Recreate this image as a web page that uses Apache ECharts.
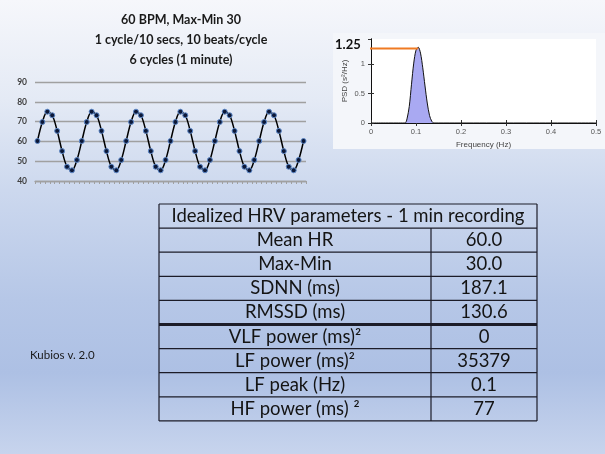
<!DOCTYPE html>
<html><head><meta charset="utf-8">
<script src="https://cdn.jsdelivr.net/npm/echarts@6/dist/echarts.min.js"></script>
<style>html,body{margin:0;padding:0;background:#fff;}#c{width:605px;height:454px;}</style>
</head><body><div id="c"></div>
<script>
const titleLines = ['60 BPM, Max-Min 30', '1 cycle/10 secs, 10 beats/cycle', '6 cycles (1 minute)'];
const beatIndex = [1,2,3,4,5,6,7,8,9,10,11,12,13,14,15,16,17,18,19,20,21,22,23,24,25,26,27,28,29,30,31,32,33,34,35,36,37,38,39,40,41,42,43,44,45,46,47,48,49,50,51,52,53,54,55];
const hrValues = [
  60.2,69.8,75.0,73.2,65.3,55.1,47.2,45.4,50.6,
  60.2,69.8,75.0,73.2,65.3,55.1,47.2,45.4,50.6,
  60.2,69.8,75.0,73.2,65.3,55.1,47.2,45.4,50.6,
  60.2,69.8,75.0,73.2,65.3,55.1,47.2,45.4,50.6,
  60.2,69.8,75.0,73.2,65.3,55.1,47.2,45.4,50.6,
  60.2,69.8,75.0,73.2,65.3,55.1,47.2,45.4,50.6,
  60.2
];
const hrTicks = [40, 50, 60, 70, 80, 90];
const psdFreq   = [0, 0.070, 0.076, 0.080, 0.085, 0.090, 0.095, 0.100, 0.105, 0.110, 0.115, 0.120, 0.125, 0.130, 0.135, 0.140, 0.5];
const psdValues = [0, 0,     0,     0.07,  0.28,  0.66,  1.02,  1.24,  1.29,  1.19,  0.94,  0.63,  0.34,  0.13,  0.03,  0,     0];
const peakFreq = 0.105;
const peakMarkerValue = 1.27;
const peakLabel = '1.25';
const freqTicks = [0, 0.1, 0.2, 0.3, 0.4, 0.5];
const psdTicks = [0, 0.5, 1];
const tableHeader = 'Idealized HRV parameters - 1 min recording';
const tableParams = ['Mean HR', 'Max-Min', 'SDNN (ms)', 'RMSSD (ms)', 'VLF power (ms)²', 'LF power (ms)²', 'LF peak (Hz)', 'HF power (ms) ²'];
const tableValues = ['60.0', '30.0', '187.1', '130.6', '0', '35379', '0.1', '77'];
const footnote = 'Kubios v. 2.0';

const chart = echarts.init(document.getElementById('c'), null, {renderer: 'canvas'});

// table graphics
const T = {left: 159, right: 537, div: 431, top: 204, rowH: 24.1};
const tableG = [];
const nRows = tableParams.length + 1;
const lineCol = '#1c1c28';
for (let i = 0; i <= nRows; i++) {
  const y = T.top + i * T.rowH;
  const thick = (i === 5);
  tableG.push({type: 'line', shape: {x1: T.left, y1: y, x2: T.right, y2: y}, style: {stroke: lineCol, lineWidth: thick ? 3 : 1.2}});
}
tableG.push({type: 'line', shape: {x1: T.left, y1: T.top, x2: T.left, y2: T.top + nRows * T.rowH}, style: {stroke: lineCol, lineWidth: 1.2}});
tableG.push({type: 'line', shape: {x1: T.right, y1: T.top, x2: T.right, y2: T.top + nRows * T.rowH}, style: {stroke: lineCol, lineWidth: 1.2}});
tableG.push({type: 'line', shape: {x1: T.div, y1: T.top + T.rowH, x2: T.div, y2: T.top + nRows * T.rowH}, style: {stroke: lineCol, lineWidth: 1.2}});
const tFont = {fontFamily: 'Lato', fontSize: 18.5, fill: '#141414'};
tableG.push({type: 'text', x: (T.left + T.right) / 2, y: T.top + T.rowH / 2, style: Object.assign({text: tableHeader, align: 'center', verticalAlign: 'middle'}, tFont)});
tableParams.forEach((p, i) => {
  const yc = T.top + (i + 1.5) * T.rowH;
  tableG.push({type: 'text', x: (T.left + T.div) / 2, y: yc, style: Object.assign({text: p, align: 'center', verticalAlign: 'middle'}, tFont)});
  tableG.push({type: 'text', x: (T.div + T.right) / 2, y: yc, style: Object.assign({text: tableValues[i], align: 'center', verticalAlign: 'middle'}, tFont)});
});

const option = {
  animation: false,
  title: {
    text: titleLines.join('\n'), left: 176, top: 5, textAlign: 'center',
    textStyle: {fontFamily: 'Lato', fontWeight: 'bold', fontSize: 12.5, lineHeight: 20, color: '#1a1a1a'}
  },
  graphic: [
    {type: 'rect', z: -100, shape: {x: 0, y: 0, width: 605, height: 454},
      style: {fill: new echarts.graphic.LinearGradient(0, 0, 0, 1, [
        {offset: 0, color: '#f6f7fb'}, {offset: 0.22, color: '#e4eaf5'}, {offset: 0.42, color: '#ccd8ee'},
        {offset: 0.66, color: '#b6c7e7'}, {offset: 0.82, color: '#adc0e4'}, {offset: 1, color: '#c7d4ed'}])}},
    {type: 'rect', z: -90, shape: {x: 333, y: 33, width: 272, height: 116}, style: {fill: '#f4f6fa'}},
    {type: 'text', x: 335, y: 45, style: {text: peakLabel, fontFamily: 'Lato', fontWeight: 'bold', fontSize: 13, fill: '#111', verticalAlign: 'middle'}},
    {type: 'text', x: 30, y: 355, style: {text: footnote, fontFamily: 'Lato', fontSize: 11.5, fill: '#1a1a1a', verticalAlign: 'middle'}}
  ].concat(tableG),
  grid: [
    {left: 35, top: 82, width: 271, height: 99},
    {left: 371, top: 39, width: 225, height: 84, show: true, backgroundColor: '#ffffff', borderWidth: 0}
  ],
  xAxis: [
    {type: 'category', gridIndex: 0, data: beatIndex, boundaryGap: true,
      axisLine: {lineStyle: {color: '#a0a0a0', width: 1.3}},
      axisTick: {show: true, interval: 0, length: 3, lineStyle: {color: '#a0a0a0'}},
      axisLabel: {show: false}},
    {type: 'value', gridIndex: 1, min: freqTicks[0], max: freqTicks[freqTicks.length - 1], interval: 0.1,
      axisLine: {show: true, lineStyle: {color: '#111', width: 1}},
      axisTick: {show: true, inside: true, length: 3, lineStyle: {color: '#333'}},
      axisLabel: {fontFamily: 'Liberation Sans', fontSize: 7.5, color: '#555', margin: 5},
      splitLine: {show: false},
      name: 'Frequency (Hz)', nameLocation: 'middle', nameGap: 18,
      nameTextStyle: {fontFamily: 'Liberation Sans', fontSize: 8, color: '#444'}},
    {type: 'value', gridIndex: 1, position: 'top', min: 0, max: 0.5, interval: 0.1,
      axisLine: {show: true, lineStyle: {color: '#111', width: 1}},
      axisTick: {show: true, inside: true, length: 3, lineStyle: {color: '#333'}},
      axisLabel: {show: false}, splitLine: {show: false}}
  ],
  yAxis: [
    {type: 'value', gridIndex: 0, min: hrTicks[0], max: hrTicks[hrTicks.length - 1], interval: 10,
      axisLine: {show: false}, axisTick: {show: false},
      splitLine: {lineStyle: {color: '#a0a0a0', width: 1.3}},
      axisLabel: {fontFamily: 'Lato', fontSize: 8.5, fontWeight: 'bold', color: '#404040', margin: 8}},
    {type: 'value', gridIndex: 1, min: 0, max: 1.43, interval: 0.5,
      axisLine: {show: true, lineStyle: {color: '#111', width: 1}},
      axisTick: {show: true, inside: true, length: 3, lineStyle: {color: '#333'}},
      axisLabel: {fontFamily: 'Liberation Sans', fontSize: 7.5, color: '#555', margin: 6, showMaxLabel: false},
      splitLine: {show: false},
      name: 'PSD (s²/Hz)', nameLocation: 'middle', nameGap: 22, nameRotate: 90,
      nameTextStyle: {fontFamily: 'Liberation Sans', fontSize: 8, color: '#444'}},
    {type: 'value', gridIndex: 1, position: 'right', min: 0, max: 1.43, interval: 0.5,
      axisLine: {show: true, lineStyle: {color: '#111', width: 1}},
      axisTick: {show: true, inside: true, length: 3, lineStyle: {color: '#333'}},
      axisLabel: {show: false}, splitLine: {show: false}}
  ],
  series: [
    {type: 'line', xAxisIndex: 0, yAxisIndex: 0, data: hrValues, smooth: 0.35,
      lineStyle: {color: '#000', width: 1.5},
      symbol: 'circle', symbolSize: 5, showAllSymbol: true,
      itemStyle: {color: '#0c1838', borderColor: '#5b86c6', borderWidth: 1}},
    {type: 'line', xAxisIndex: 1, yAxisIndex: 1, data: psdFreq.map((f, i) => [f, psdValues[i]]),
      smooth: 0.3, symbol: 'none', lineStyle: {color: '#111', width: 1},
      areaStyle: {color: '#a9a9f2', opacity: 1}},
    {type: 'line', xAxisIndex: 1, yAxisIndex: 1, data: [[-0.02, peakMarkerValue], [peakFreq, peakMarkerValue]],
      clip: false, symbol: 'none', lineStyle: {color: '#ef7a22', width: 2}, z: 5}
  ]
};
chart.setOption(option);
</script>
</body></html>
